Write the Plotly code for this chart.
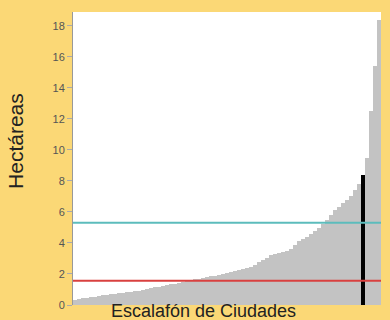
import plotly.graph_objects as go

# Sorted city values (hectáreas)
valores = [0.35, 0.38, 0.42, 0.46, 0.5, 0.54, 0.58, 0.62, 0.66, 0.7,
           0.73, 0.76, 0.8, 0.83, 0.86, 0.89, 0.93, 0.98, 1.03, 1.08,
           1.13, 1.18, 1.23, 1.28, 1.33, 1.38, 1.43, 1.48, 1.54, 1.6,
           1.65, 1.7, 1.75, 1.8, 1.85, 1.9, 1.95, 2.0, 2.05, 2.1,
           2.18, 2.25, 2.32, 2.38, 2.45, 2.6, 2.75, 2.9, 3.05, 3.2,
           3.3, 3.38, 3.45, 3.5, 3.6, 3.85, 4.1, 4.25, 4.4, 4.55,
           4.75, 4.95, 5.2, 5.5, 5.8, 6.1, 6.35, 6.6, 6.8, 7.0,
           7.4, 7.8, 8.4, 9.5, 12.5, 15.4, 18.4]
ciudades = list(range(len(valores)))

# Highlighted city
ciudad_destacada = [72]
valor_destacado = [8.4]

# Reference lines
linea_cian = 5.3
linea_roja = 1.56

y_ticks = [0, 2, 4, 6, 8, 10, 12, 14, 16, 18]

fig = go.Figure()
fig.add_trace(go.Bar(x=ciudades, y=valores, marker=dict(color="#c3c3c3", line=dict(width=0)),
                     showlegend=False, hoverinfo="skip"))
fig.add_trace(go.Bar(x=ciudad_destacada, y=valor_destacado, width=0.8,
                     marker=dict(color="#000000", line=dict(width=0)), showlegend=False,
                     hoverinfo="skip"))

fig.add_shape(type="line", xref="paper", yref="y", x0=0, x1=1, y0=linea_cian, y1=linea_cian,
              line=dict(color="#5cbcbc", width=2))
fig.add_shape(type="line", xref="paper", yref="y", x0=0, x1=1, y0=linea_roja, y1=linea_roja,
              line=dict(color="#d9403f", width=2))

fig.update_layout(
    width=390, height=320,
    paper_bgcolor="#fbd876",
    plot_bgcolor="#ffffff",
    margin=dict(l=73, r=9, t=12, b=15),
    barmode="overlay",
    bargap=0,
    font=dict(family="Liberation Sans, Arial, sans-serif"),
    xaxis=dict(range=[-0.5, len(valores) - 0.5], showticklabels=False, ticks="",
               showgrid=False, zeroline=False, showline=False),
    yaxis=dict(range=[0, 18.9], tickvals=y_ticks, ticks="outside", ticklen=5,
               tickcolor="#aaaaaa", showline=True, linecolor="#999999", linewidth=1,
               showgrid=False, zeroline=False,
               tickfont=dict(size=11, color="#555555")),
    annotations=[
        dict(text="Hectáreas", xref="paper", yref="paper", x=-0.185, y=0.56,
             xanchor="center", yanchor="middle", textangle=-90, showarrow=False,
             font=dict(size=21, color="#222222")),
        dict(text="Escalafón de Ciudades", xref="paper", yref="paper", x=0.425, y=0.022,
             xanchor="center", yanchor="top", showarrow=False,
             font=dict(size=18, color="#222222")),
    ],
)

fig.write_html("out.html", config={"displayModeBar": False},
               post_script="document.body.style.margin='0px';")
